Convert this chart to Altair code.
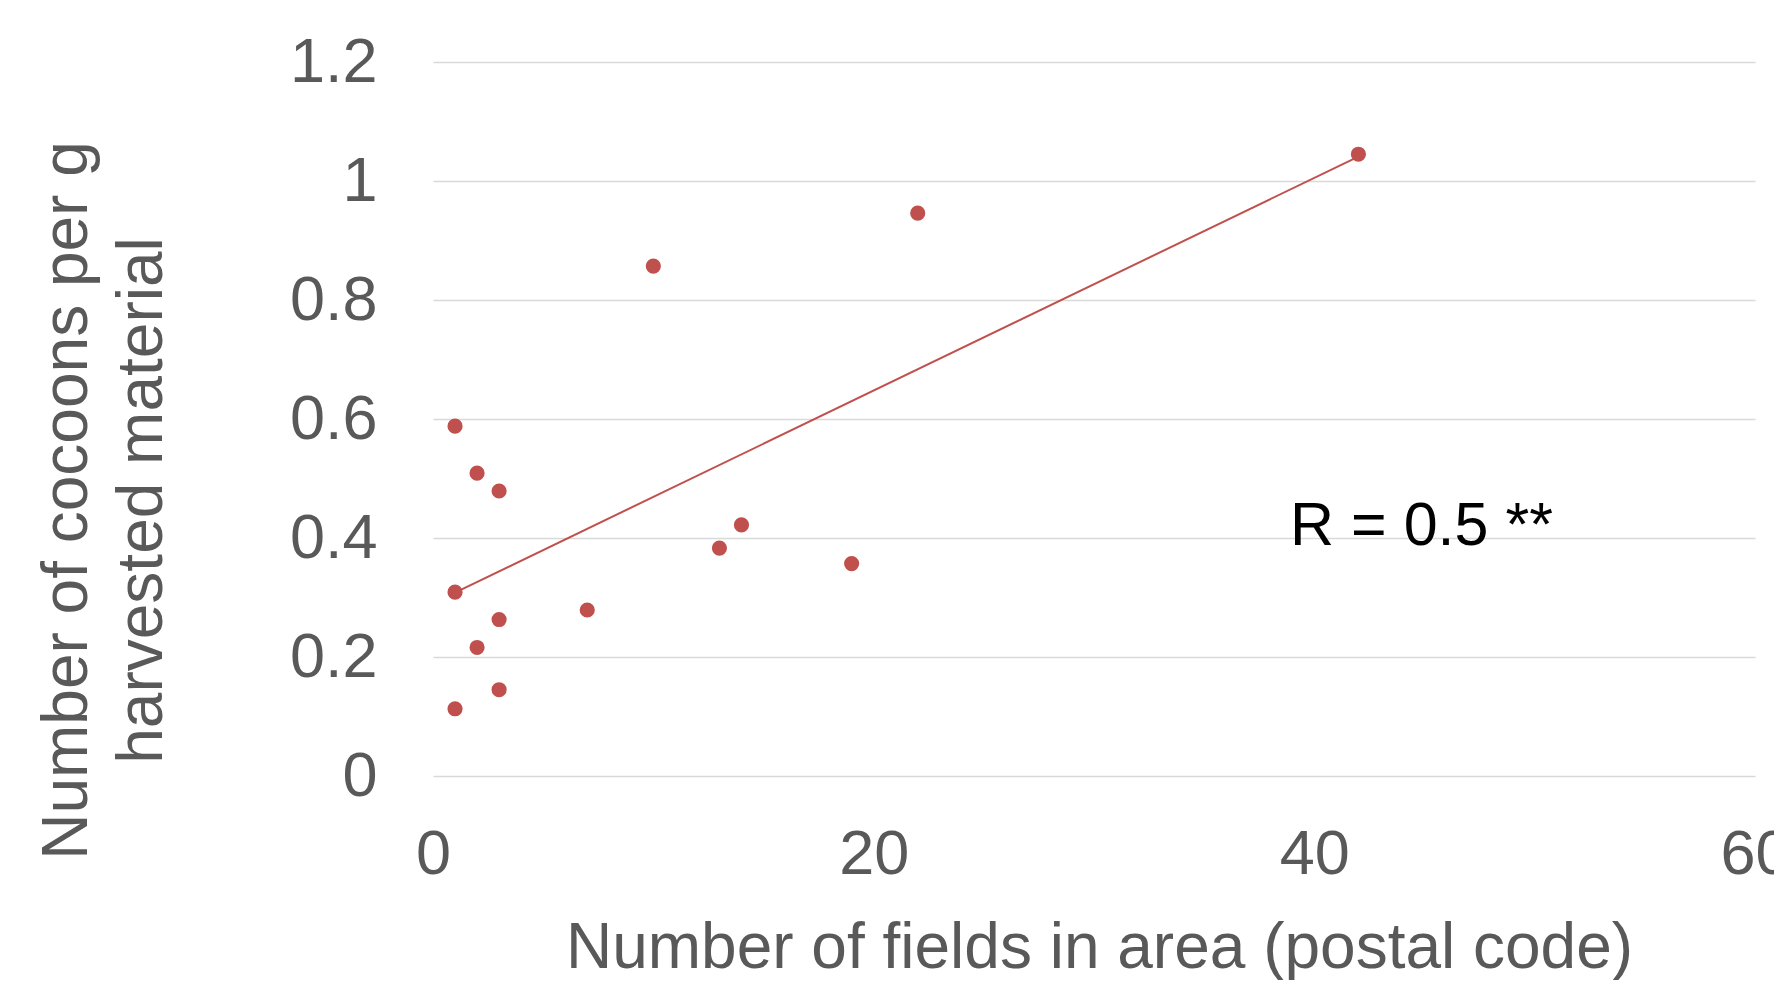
import altair as alt
import pandas as pd

# Data
fields = [1, 2, 3, 10, 22, 42, 14, 13, 19, 1, 7, 3, 2, 3, 1]
cocoons = [0.588, 0.509, 0.479, 0.857, 0.946, 1.045, 0.422, 0.383, 0.357,
           0.309, 0.279, 0.263, 0.216, 0.145, 0.113]

annot_text = ["R = 0.5 **"]
annot_x = [38.9]
annot_y = [0.388]

df = pd.DataFrame({"fields": fields, "cocoons": cocoons})
ann = pd.DataFrame({"x": annot_x, "y": annot_y, "t": annot_text})

RED = "#C0504D"
GRAY = "#595959"
FONT = "Liberation Sans"

xscale = alt.Scale(domain=[0, 60], nice=False, zero=True)
yscale = alt.Scale(domain=[0, 1.2], nice=False, zero=True)

xaxis = alt.Axis(
    title="Number of fields in area (postal code)",
    values=[0, 20, 40, 60],
    grid=False, ticks=False, tickSize=0, domain=False,
    labelFont=FONT, labelFontSize=63, labelColor=GRAY,
    labelBaseline="alphabetic", labelPadding=97, labelFlush=False,
    labelOverlap=False,
    titleFont=FONT, titleFontSize=64, titleColor=GRAY, titleFontWeight="normal",
    titleBaseline="alphabetic", titleY=191, titleX=666, titleAlign="center",
)
yaxis = alt.Axis(
    title=["Number of cocoons per g", "harvested material"],
    values=[0, 0.2, 0.4, 0.6, 0.8, 1.0, 1.2],
    labelExpr="datum.value == 0 ? '0' : datum.value == 1 ? '1' : format(datum.value, '.1f')",
    grid=True, gridColor="#d9d9d9", gridWidth=1.5,
    ticks=False, tickSize=0, domain=False,
    labelFont=FONT, labelFontSize=63, labelColor=GRAY,
    labelAlign="right", labelBaseline="middle", labelPadding=56,
    labelFlush=False, labelOverlap=False,
    titleFont=FONT, titleFontSize=64, titleColor=GRAY, titleFontWeight="normal",
    titleAngle=-90, titleBaseline="alphabetic", titleAlign="center",
    titleX=-347, titleY=438, titleLineHeight=75,
)

base = alt.Chart(df)

points = base.mark_circle(color=RED, opacity=1).encode(
    x=alt.X("fields:Q", scale=xscale, axis=xaxis),
    y=alt.Y("cocoons:Q", scale=yscale, axis=yaxis),
    size=alt.value(230),
)

trend = base.transform_regression("fields", "cocoons").mark_line(
    color=RED, strokeWidth=2
).encode(
    x=alt.X("fields:Q", scale=xscale),
    y=alt.Y("cocoons:Q", scale=yscale),
)

label = alt.Chart(ann).mark_text(
    font=FONT, fontSize=61, color="#000000", align="left", baseline="alphabetic"
).encode(
    x=alt.X("x:Q", scale=xscale),
    y=alt.Y("y:Q", scale=yscale),
    text="t:N",
)

chart = alt.layer(trend, points, label).properties(
    width=1322, height=714,
    autosize=alt.AutoSizeParams(type="none"),
    padding={"left": 425, "top": 54, "right": 19, "bottom": 204},
    background="white",
).configure_view(stroke=None)

chart.save("out.html", embed_options={"renderer": "svg", "actions": False})
